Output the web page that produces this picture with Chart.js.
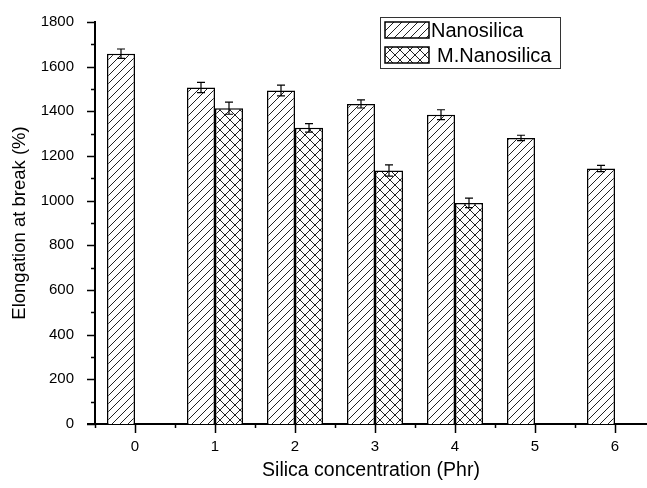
<!DOCTYPE html>
<html>
<head>
<meta charset="utf-8">
<script src="https://cdn.jsdelivr.net/npm/chart.js@4.4.1/dist/chart.umd.min.js"></script>
<style>
  html, body { margin: 0; padding: 0; background: #fff; }
</style>
</head>
<body>
<canvas id="chart" width="647" height="488"></canvas>
<script>
// data
const categories = [0, 1, 2, 3, 4, 5, 6];
const nanoValues = [1658, 1507, 1493, 1433, 1385, 1281, 1144];
const nanoErrors = [21, 23, 24, 18, 22, 12, 14];
const mCategories = [1, 2, 3, 4];
const mValues = [1414, 1326, 1135, 990];
const mErrors = [27, 19, 25, 21];
const yTicks = [0, 200, 400, 600, 800, 1000, 1200, 1400, 1600, 1800];

const FONT = "'Liberation Sans', Arial, sans-serif";

// hatch fills
function makeHatch(cross, size) {
  const c = document.createElement("canvas");
  c.width = size;
  c.height = size;
  const g = c.getContext("2d");
  g.fillStyle = "#fff";
  g.fillRect(0, 0, size, size);
  g.strokeStyle = "#222";
  g.lineWidth = 1;
  g.beginPath();
  // "/" lines
  g.moveTo(-1, size + 1); g.lineTo(size + 1, -1);
  g.moveTo(-1, 1); g.lineTo(1, -1);
  g.moveTo(size - 1, size + 1); g.lineTo(size + 1, size - 1);
  if (cross) {
    // "\" lines
    g.moveTo(-1, -1); g.lineTo(size + 1, size + 1);
    g.moveTo(size - 1, -1); g.lineTo(size + 1, 1);
    g.moveTo(-1, size - 1); g.lineTo(1, size + 1);
  }
  g.stroke();
  return g.createPattern(c, "repeat");
}
const ctx = document.getElementById("chart").getContext("2d");
const nanoFill = makeHatch(false, 8);
const mFill = makeHatch(true, 10);

// error bars
const errorBars = {
  id: "errorBars",
  afterDatasetsDraw(chart) {
    const c = chart.ctx;
    const y = chart.scales.y;
    c.save();
    c.strokeStyle = "#000";
    c.lineWidth = 1.2;
    chart.data.datasets.forEach((ds, i) => {
      chart.getDatasetMeta(i).data.forEach((bar, j) => {
        const v = ds.data[j].y;
        const e = ds.errors[j];
        const top = y.getPixelForValue(v + e);
        const bot = y.getPixelForValue(v - e);
        c.beginPath();
        c.moveTo(bar.x, top); c.lineTo(bar.x, bot);
        c.moveTo(bar.x - 4, top); c.lineTo(bar.x + 4, top);
        c.moveTo(bar.x - 4, bot); c.lineTo(bar.x + 4, bot);
        c.stroke();
      });
    });
    c.restore();
  }
};

// outward tick marks, major + minor
const tickMarks = {
  id: "tickMarks",
  afterDraw(chart) {
    const c = chart.ctx;
    const { x, y } = chart.scales;
    const area = chart.chartArea;
    c.save();
    c.strokeStyle = "#000";
    c.lineWidth = 1.5;
    c.beginPath();
    for (let v = 0; v <= 1800; v += 100) {
      const py = Math.round(y.getPixelForValue(v)) + 0.5;
      const len = v % 200 === 0 ? 8 : 4;
      c.moveTo(area.left, py); c.lineTo(area.left - len, py);
    }
    for (let v = -0.5; v <= x.max; v += 0.5) {
      const px = Math.round(x.getPixelForValue(v)) + 0.5;
      const len = Number.isInteger(v) ? 9 : 4;
      c.moveTo(px, area.bottom); c.lineTo(px, area.bottom + len);
    }
    c.stroke();
    // small overhang of x axis to the left
    c.lineWidth = 2;
    c.beginPath();
    c.moveTo(area.left - 8, area.bottom); c.lineTo(area.left, area.bottom);
    c.stroke();
    c.restore();
  }
};

// framed legend in the top right
const boxLegend = {
  id: "boxLegend",
  afterDraw(chart) {
    const c = chart.ctx;
    const textX = [431, 437];
    const rowY = [22, 47];
    c.save();
    c.strokeStyle = "#333";
    c.lineWidth = 1;
    c.strokeRect(380.5, 17.5, 180, 51);
    c.font = "20px " + FONT;
    c.textBaseline = "middle";
    c.fillStyle = "#000";
    chart.data.datasets.forEach((ds, i) => {
      c.fillStyle = ds.backgroundColor;
      c.fillRect(385, rowY[i], 44, 16);
      c.lineWidth = 1.5;
      c.strokeStyle = "#000";
      c.strokeRect(385, rowY[i], 44, 16);
      c.fillStyle = "#000";
      c.fillText(ds.label, textX[i], rowY[i] + 9);
    });
    c.restore();
  }
};

new Chart(ctx, {
  type: "bar",
  data: {
    datasets: [
      {
        label: "Nanosilica",
        data: categories.map((c, i) => ({ x: c, y: nanoValues[i] })),
        errors: nanoErrors,
        backgroundColor: nanoFill,
        borderColor: "#000",
        borderWidth: 1.5,
      },
      {
        label: "M.Nanosilica",
        data: mCategories.map((c, i) => ({ x: c, y: mValues[i] })),
        errors: mErrors,
        backgroundColor: mFill,
        borderColor: "#000",
        borderWidth: 1.5,
      },
    ],
  },
  options: {
    responsive: false,
    animation: false,
    devicePixelRatio: 1,
    categoryPercentage: 0.7,
    barPercentage: 1,
    layout: { padding: { left: 0, right: 0, top: 18, bottom: 0 } },
    plugins: {
      legend: { display: false },
      tooltip: { enabled: false },
    },
    scales: {
      x: {
        type: "linear",
        min: -0.5,
        max: 6.4,
        offset: false,
        grid: { display: false },
        border: { display: true, color: "#000", width: 2 },
        afterBuildTicks: (s) => { s.ticks = categories.map((v) => ({ value: v })); },
        afterFit: (s) => { s.height = 64; },
        ticks: {
          color: "#000",
          padding: 6,
          font: { family: FONT, size: 15 },
          maxRotation: 0,
          callback: (v) => String(v),
        },
        title: {
          display: true,
          text: "Silica concentration (Phr)",
          color: "#000",
          font: { family: FONT, size: 19.5 },
          padding: { top: 0, bottom: 6 },
        },
      },
      y: {
        min: 0,
        max: 1800,
        grid: { display: false },
        border: { display: true, color: "#000", width: 2 },
        afterBuildTicks: (s) => { s.ticks = yTicks.map((v) => ({ value: v })); },
        afterFit: (s) => { s.width = 95; },
        ticks: {
          color: "#000",
          padding: 13,
          font: { family: FONT, size: 15 },
          callback: (v) => String(v),
        },
        title: {
          display: true,
          text: "Elongation at break (%)",
          color: "#000",
          font: { family: FONT, size: 18.5 },
          padding: { top: 9, bottom: 0 },
        },
      },
    },
  },
  plugins: [errorBars, tickMarks, boxLegend],
});
</script>
</body>
</html>
